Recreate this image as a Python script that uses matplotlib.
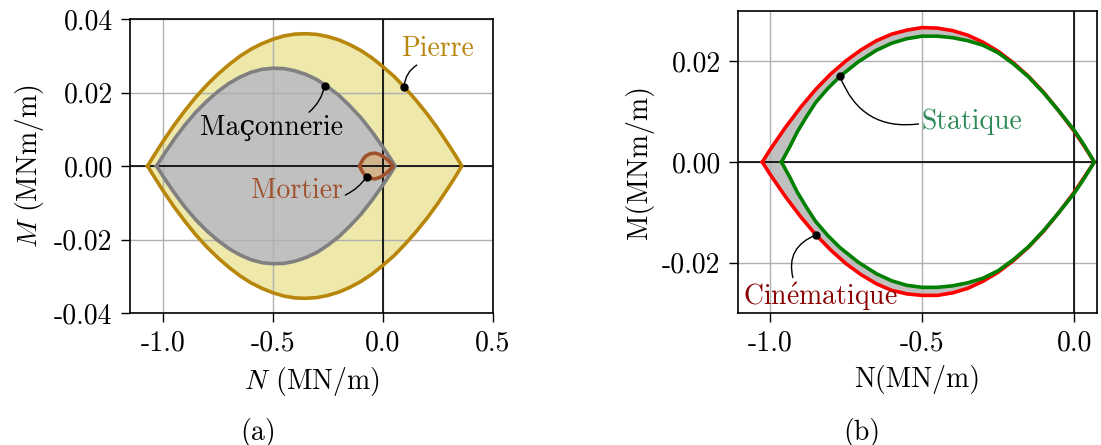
import matplotlib.pyplot as plt
import numpy as np
from matplotlib.path import Path
from matplotlib.patches import PathPatch

plt.rcParams['font.family'] = ['cmr10', 'DejaVu Serif']
plt.rcParams['mathtext.fontset'] = 'cm'
plt.rcParams['axes.unicode_minus'] = False
plt.rcParams['font.size'] = 20

# (a) domaines N-M : pierre, maconnerie, mortier
n_pierre = [-1.07, -1.05, -1.0, -0.95, -0.9, -0.85, -0.8, -0.75, -0.7, -0.65, -0.6, -0.55, -0.5, -0.45,
            -0.4, -0.35, -0.3, -0.25, -0.2, -0.15, -0.1, -0.05, 0.0, 0.05, 0.1, 0.15, 0.2, 0.25, 0.3, 0.33, 0.358]
m_pierre_haut = [0.0, 0.0020, 0.0067, 0.0111, 0.0151, 0.0188, 0.0221, 0.0250, 0.0276, 0.0299, 0.0318, 0.0333,
                 0.0345, 0.0354, 0.0359, 0.0360, 0.0358, 0.0352, 0.0343, 0.0330, 0.0314, 0.0294, 0.0270, 0.0244,
                 0.0213, 0.0179, 0.0142, 0.0101, 0.0056, 0.0028, 0.0]
m_pierre_bas = [0.0, -0.0020, -0.0067, -0.0111, -0.0151, -0.0188, -0.0221, -0.0250, -0.0276, -0.0299, -0.0318,
                -0.0333, -0.0345, -0.0354, -0.0359, -0.0360, -0.0358, -0.0352, -0.0343, -0.0330, -0.0314, -0.0294,
                -0.0270, -0.0244, -0.0213, -0.0179, -0.0142, -0.0101, -0.0056, -0.0028, 0.0]

n_maconnerie = [-1.029, -1.0, -0.95, -0.9, -0.85, -0.8, -0.75, -0.7, -0.65, -0.6, -0.55, -0.5, -0.45, -0.4,
                -0.35, -0.3, -0.25, -0.2, -0.15, -0.1, -0.05, 0.0, 0.03, 0.055]
m_maconnerie_haut = [0.0, 0.0028, 0.0072, 0.0112, 0.0147, 0.0177, 0.0203, 0.0225, 0.0242, 0.0255, 0.0263, 0.0266,
                     0.0265, 0.0259, 0.0249, 0.0235, 0.0215, 0.0192, 0.0163, 0.0131, 0.0093, 0.0051, 0.0024, 0.0]
m_maconnerie_bas = [0.0, -0.0028, -0.0072, -0.0112, -0.0147, -0.0177, -0.0203, -0.0225, -0.0242, -0.0255, -0.0263,
                    -0.0266, -0.0265, -0.0259, -0.0249, -0.0235, -0.0215, -0.0192, -0.0163, -0.0131, -0.0093,
                    -0.0051, -0.0024, 0.0]

n_mortier = [-0.105, -0.1, -0.09, -0.08, -0.07, -0.06, -0.05, -0.04, -0.03, -0.02, -0.01, 0.0, 0.01, 0.02,
             0.03, 0.04, 0.045]
m_mortier_haut = [0.0, 0.0009, 0.0019, 0.0026, 0.0030, 0.0033, 0.0034, 0.0035, 0.0034, 0.0032, 0.0030, 0.0026,
                  0.0022, 0.0017, 0.0011, 0.0005, 0.0]
m_mortier_bas = [0.0, -0.0009, -0.0019, -0.0026, -0.0030, -0.0033, -0.0034, -0.0035, -0.0034, -0.0032, -0.0030,
                 -0.0026, -0.0022, -0.0017, -0.0011, -0.0005, 0.0]

# (b) approche cinematique / statique
n_cine = [-1.025, -1.0, -0.95, -0.9, -0.85, -0.8, -0.75, -0.7, -0.65, -0.6, -0.55, -0.5, -0.45, -0.4, -0.35,
          -0.3, -0.25, -0.2, -0.15, -0.1, -0.05, 0.0, 0.03, 0.066]
m_cine_haut = [0.0, 0.0024, 0.0068, 0.0108, 0.0144, 0.0175, 0.0201, 0.0223, 0.0241, 0.0254, 0.0262, 0.0267,
               0.0266, 0.0261, 0.0252, 0.0238, 0.0220, 0.0197, 0.0170, 0.0138, 0.0101, 0.0061, 0.0034, 0.0]
m_cine_bas = [0.0, -0.0024, -0.0068, -0.0108, -0.0144, -0.0175, -0.0202, -0.0224, -0.0242, -0.0255, -0.0262,
              -0.0265, -0.0265, -0.0260, -0.0251, -0.0237, -0.0219, -0.0196, -0.0169, -0.0137, -0.0100, -0.0060,
              -0.0033, 0.0]

n_stat = [-0.962, -0.935, -0.91, -0.88, -0.85, -0.81, -0.77, -0.71, -0.65, -0.6, -0.55, -0.5, -0.45, -0.4,
          -0.35, -0.3, -0.25, -0.2, -0.15, -0.1, -0.05, 0.0, 0.03, 0.066]
m_stat_haut = [0.0, 0.0030, 0.0060, 0.0090, 0.0118, 0.0146, 0.0170, 0.0199, 0.0222, 0.0236, 0.0245, 0.0250,
               0.0250, 0.0247, 0.0241, 0.0232, 0.0217, 0.0195, 0.0169, 0.0137, 0.0101, 0.0063, 0.0036, 0.0]
m_stat_bas = [0.0, -0.0030, -0.0060, -0.0090, -0.0118, -0.0146, -0.0170, -0.0199, -0.0222, -0.0236, -0.0245,
              -0.0249, -0.0249, -0.0246, -0.0240, -0.0231, -0.0216, -0.0194, -0.0168, -0.0136, -0.0100, -0.0062,
              -0.0035, 0.0]

xticks_a = [-1.0, -0.5, 0.0, 0.5]
yticks_a = [-0.04, -0.02, 0.0, 0.02, 0.04]
xticks_b = [-1.0, -0.5, 0.0]
yticks_b = [-0.02, 0.0, 0.02]


def contour(n, haut, bas):
    # tour ferme : haut de gauche a droite puis bas de droite a gauche
    x = list(n) + list(n[::-1])
    y = list(haut) + list(bas[::-1])
    return np.array(x), np.array(y)


def style_axes(ax):
    ax.set_axisbelow(False)
    ax.grid(True, color='#b0b0b0', lw=1.0)
    ax.axhline(0, color='black', lw=1.2, zorder=2.6)
    ax.axvline(0, color='black', lw=1.2, zorder=2.6)
    ax.tick_params(direction='out', length=6.5, width=1.0, pad=6)
    for s in ax.spines.values():
        s.set_linewidth(1.2)
        s.set_zorder(4)


def note(ax, texte, xy, xytext, couleur, relpos, rad):
    ax.annotate(texte, xy=xy, xytext=xytext, color=couleur, ha='center', va='center',
                arrowprops=dict(arrowstyle='-', color='black', lw=1.0, relpos=relpos,
                                shrinkA=0, shrinkB=0,
                                connectionstyle='arc3,rad=%s' % rad),
                zorder=5)
    ax.plot(xy[0], xy[1], 'o', color='black', ms=5, zorder=6)


fig = plt.figure(figsize=(11.01, 4.45), dpi=100)

# ---- (a)
ax1 = fig.add_axes([0.1181, 0.2966, 0.3297, 0.6607])
style_axes(ax1)
for n, h, b, fond, bord in [(n_pierre, m_pierre_haut, m_pierre_bas, 'palegoldenrod', 'darkgoldenrod'),
                            (n_maconnerie, m_maconnerie_haut, m_maconnerie_bas, 'silver', 'gray'),
                            (n_mortier, m_mortier_haut, m_mortier_bas, 'tan', 'sienna')]:
    x, y = contour(n, h, b)
    ax1.fill(x, y, color=fond, lw=0, zorder=1)
    ax1.plot(x, y, color=bord, lw=2.6, zorder=3, solid_joinstyle='round')

note(ax1, 'Pierre', (0.095, 0.0216), (0.248, 0.0318), 'darkgoldenrod', (0.29, 0.0), 0.3)
note(ax1, 'Maçonnerie', (-0.265, 0.0219), (-0.509, 0.0103), 'black', (0.74, 1.0), 0.2)
note(ax1, 'Mortier', (-0.074, -0.0029), (-0.393, -0.0068), 'sienna', (1.0, 0.3), 0.15)

ax1.set_xlim(-1.15, 0.5)
ax1.set_ylim(-0.04, 0.04)
ax1.set_xticks(xticks_a)
ax1.set_xticklabels(['%.1f' % v for v in xticks_a])
ax1.set_yticks(yticks_a)
ax1.set_yticklabels(['%.2f' % v for v in yticks_a])
ax1.set_xlabel('$N$ (MN/m)', labelpad=6)
ax1.set_ylabel('$M$ (MNm/m)', labelpad=6)

# ---- (b)
ax2 = fig.add_axes([0.6703, 0.2966, 0.3261, 0.6787])
style_axes(ax2)
xc, yc = contour(n_cine, m_cine_haut, m_cine_bas)
xs, ys = contour(n_stat, m_stat_haut, m_stat_bas)
# zone grise entre les deux contours (statique en trou)
verts = list(zip(xc, yc)) + list(zip(xs[::-1], ys[::-1]))
codes = ([Path.MOVETO] + [Path.LINETO] * (len(xc) - 1) +
         [Path.MOVETO] + [Path.LINETO] * (len(xs) - 1))
ax2.add_patch(PathPatch(Path(verts, codes), facecolor='silver', lw=0, zorder=1))
ax2.plot(xc, yc, color='red', lw=2.6, zorder=3, solid_joinstyle='round')
ax2.plot(xs, ys, color='green', lw=2.6, zorder=3.1, solid_joinstyle='round')

note(ax2, 'Statique', (-0.770, 0.0170), (-0.337, 0.0079), 'seagreen', (0.0, 0.45), -0.4)
note(ax2, r'Cin$\acute{\mathrm{e}}$matique', (-0.849, -0.0145), (-0.836, -0.0268), 'darkred', (0.33, 1.0), -0.45)

ax2.set_xlim(-1.105, 0.075)
ax2.set_ylim(-0.03, 0.03)
ax2.set_xticks(xticks_b)
ax2.set_xticklabels(['%.1f' % v for v in xticks_b])
ax2.set_yticks(yticks_b)
ax2.set_yticklabels(['%.2f' % v for v in yticks_b])
ax2.set_xlabel('N(MN/m)', labelpad=6)
ax2.set_ylabel('M(MNm/m)', labelpad=6)

fig.text(0.234, 0.029, '(a)', ha='center', va='center')
fig.text(0.783, 0.029, '(b)', ha='center', va='center')

fig.savefig('out.png', dpi=100)
